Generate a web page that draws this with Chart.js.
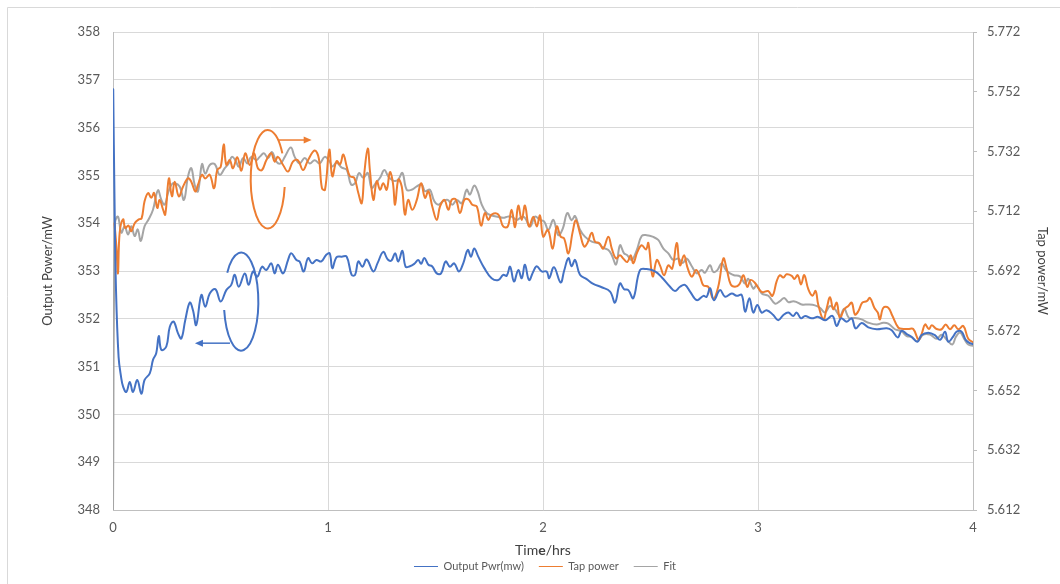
<!DOCTYPE html>
<html><head><meta charset="utf-8">
<script src="https://cdn.jsdelivr.net/npm/chart.js@4/dist/chart.umd.min.js"></script>
<style>html,body{margin:0;padding:0;background:#fff}#wrap{width:1060px;height:584px;position:relative}</style>
</head><body><div id="wrap"><canvas id="c" width="1060" height="584"></canvas></div>
<script>
// ---- tick labels ----
const xTicks = [0, 1, 2, 3, 4];
const leftTicks = [348, 349, 350, 351, 352, 353, 354, 355, 356, 357, 358];
const rightTicks = [5.612, 5.632, 5.652, 5.672, 5.692, 5.712, 5.732, 5.752, 5.772];
const seriesNames = ['Output Pwr(mw)', 'Tap power', 'Fit'];

// ---- series: [time (hrs), value] ----
const outputPwr = [
[0.001,356.8],[0.007,354.5],[0.014,352.6],[0.026,351.2],[0.037,350.8],[0.047,350.58],[0.062,350.47],[0.078,350.68],[0.093,350.47],[0.113,350.72],
[0.132,350.43],[0.147,350.72],[0.171,350.86],[0.186,351.14],[0.201,351.28],[0.213,351.64],[0.225,351.35],[0.248,351.42],[0.264,351.83],[0.282,351.94],
[0.302,351.70],[0.318,351.59],[0.336,351.97],[0.357,352.34],[0.372,352.18],[0.387,351.87],[0.411,352.50],[0.429,352.25],[0.450,352.53],[0.476,352.62],
[0.501,352.36],[0.527,352.60],[0.550,352.71],[0.566,352.92],[0.585,352.67],[0.613,352.95],[0.631,352.71],[0.651,352.99],[0.671,352.88],[0.693,353.09],
[0.713,353.02],[0.736,353.16],[0.752,352.95],[0.767,353.13],[0.791,352.95],[0.814,353.23],[0.829,353.37],[0.853,353.23],[0.868,353.20],[0.887,352.99],
[0.907,353.27],[0.926,353.16],[0.946,353.23],[0.969,353.20],[0.992,353.34],[1.008,353.37],[1.020,353.06],[1.040,353.29],[1.064,353.30],[1.087,353.30],
[1.110,352.92],[1.126,352.92],[1.141,353.20],[1.160,353.09],[1.180,353.24],[1.211,352.99],[1.231,353.17],[1.257,353.40],[1.278,353.24],[1.295,353.22],
[1.312,353.37],[1.327,353.20],[1.346,353.42],[1.361,353.09],[1.381,353.10],[1.401,353.15],[1.420,353.23],[1.433,353.15],[1.448,353.27],[1.467,353.13],
[1.484,353.10],[1.506,352.95],[1.526,352.95],[1.547,353.20],[1.567,353.09],[1.587,353.16],[1.609,352.99],[1.629,353.16],[1.650,353.44],[1.665,353.30],
[1.680,353.47],[1.699,353.30],[1.727,353.06],[1.761,352.85],[1.792,352.81],[1.815,352.92],[1.831,352.90],[1.847,353.09],[1.865,352.78],[1.885,353.02],
[1.901,352.85],[1.916,353.13],[1.935,352.81],[1.955,352.99],[1.971,353.10],[1.994,352.99],[2.017,352.99],[2.029,352.85],[2.051,353.08],[2.082,352.76],
[2.098,353.00],[2.118,353.27],[2.133,353.10],[2.149,353.23],[2.172,352.92],[2.203,352.83],[2.234,352.73],[2.273,352.66],[2.312,352.57],[2.335,352.34],
[2.358,352.74],[2.377,352.62],[2.397,352.60],[2.420,352.43],[2.451,353.02],[2.482,353.04],[2.521,352.99],[2.552,352.87],[2.591,352.67],[2.614,352.58],
[2.637,352.67],[2.660,352.71],[2.684,352.57],[2.715,352.39],[2.746,352.48],[2.761,352.46],[2.777,352.64],[2.795,352.39],[2.823,352.60],[2.847,352.46],
[2.878,352.53],[2.901,352.48],[2.924,352.50],[2.940,352.15],[2.960,352.43],[2.978,352.13],[2.997,352.29],[3.017,352.13],[3.040,352.18],[3.071,352.08],
[3.094,351.97],[3.118,352.08],[3.141,352.13],[3.164,352.06],[3.180,352.13],[3.200,352.01],[3.219,352.06],[3.250,352.01],[3.280,352.04],[3.312,351.97],
[3.346,352.06],[3.366,351.85],[3.386,352.01],[3.413,351.94],[3.436,352.01],[3.454,351.80],[3.482,351.91],[3.513,351.82],[3.552,351.78],[3.599,351.80],
[3.622,351.76],[3.650,351.61],[3.668,351.75],[3.692,351.68],[3.712,351.63],[3.741,351.52],[3.761,351.66],[3.792,351.71],[3.823,351.66],[3.847,351.56],
[3.870,351.73],[3.885,351.52],[3.908,351.63],[3.924,351.73],[3.947,351.73],[3.966,351.56],[3.986,351.49],[4.000,351.47]
];

const tapPower = [
[0.007,5.7080],[0.016,5.7000],[0.023,5.6912],[0.031,5.7048],[0.047,5.7093],[0.057,5.7064],[0.072,5.7072],[0.085,5.7053],[0.101,5.7080],[0.120,5.7093],
[0.133,5.7096],[0.147,5.7154],[0.163,5.7181],[0.178,5.7165],[0.191,5.7181],[0.206,5.7131],[0.217,5.7158],[0.233,5.7125],[0.243,5.7109],[0.260,5.7230],
[0.274,5.7170],[0.287,5.7219],[0.306,5.7170],[0.326,5.7203],[0.349,5.7230],[0.364,5.7219],[0.383,5.7186],[0.395,5.7208],[0.414,5.7242],[0.429,5.7230],
[0.450,5.7242],[0.470,5.7197],[0.485,5.7258],[0.501,5.7269],[0.515,5.7344],[0.527,5.7275],[0.543,5.7291],[0.558,5.7264],[0.578,5.7301],[0.597,5.7256],
[0.615,5.7314],[0.636,5.7275],[0.656,5.7314],[0.674,5.7264],[0.693,5.7258],[0.713,5.7291],[0.736,5.7314],[0.752,5.7286],[0.767,5.7302],[0.791,5.7275],
[0.814,5.7253],[0.837,5.7286],[0.860,5.7291],[0.884,5.7258],[0.907,5.7291],[0.938,5.7323],[0.957,5.7298],[0.972,5.7197],[0.986,5.7192],[1.006,5.7326],
[1.020,5.7237],[1.040,5.7288],[1.056,5.7277],[1.071,5.7310],[1.087,5.7270],[1.102,5.7237],[1.122,5.7232],[1.141,5.7181],[1.157,5.7147],[1.169,5.7248],
[1.185,5.7330],[1.195,5.7256],[1.211,5.7158],[1.227,5.7221],[1.242,5.7192],[1.257,5.7214],[1.273,5.7192],[1.288,5.7251],[1.302,5.7214],[1.312,5.7142],
[1.327,5.7226],[1.343,5.7203],[1.358,5.7109],[1.373,5.7158],[1.392,5.7125],[1.413,5.7158],[1.433,5.7214],[1.451,5.7165],[1.467,5.7187],[1.485,5.7136],
[1.506,5.7091],[1.521,5.7136],[1.541,5.7158],[1.560,5.7125],[1.575,5.7158],[1.594,5.7160],[1.614,5.7114],[1.634,5.7158],[1.653,5.7160],[1.671,5.7142],
[1.692,5.7136],[1.712,5.7072],[1.730,5.7114],[1.746,5.7091],[1.761,5.7109],[1.792,5.7109],[1.815,5.7069],[1.836,5.7069],[1.854,5.7125],[1.870,5.7067],
[1.885,5.7139],[1.901,5.7091],[1.916,5.7139],[1.935,5.7069],[1.955,5.7102],[1.971,5.7069],[1.986,5.7106],[2.001,5.7035],[2.023,5.7058],[2.045,5.6995],
[2.064,5.7069],[2.082,5.7035],[2.098,5.7029],[2.118,5.6979],[2.138,5.7051],[2.153,5.7090],[2.172,5.7046],[2.191,5.7002],[2.206,5.7013],[2.227,5.7048],
[2.242,5.7018],[2.262,5.7013],[2.280,5.6995],[2.304,5.7035],[2.320,5.6995],[2.340,5.6962],[2.358,5.6973],[2.373,5.6962],[2.392,5.6950],[2.408,5.6973],
[2.420,5.6946],[2.439,5.6984],[2.459,5.7006],[2.479,5.6992],[2.490,5.7014],[2.510,5.6902],[2.529,5.6957],[2.544,5.6939],[2.563,5.6906],[2.583,5.6939],
[2.601,5.6928],[2.622,5.7014],[2.637,5.6939],[2.656,5.6973],[2.671,5.6934],[2.692,5.6901],[2.712,5.6923],[2.730,5.6902],[2.746,5.6872],[2.769,5.6867],
[2.792,5.6827],[2.815,5.6867],[2.839,5.6962],[2.854,5.6928],[2.873,5.6875],[2.893,5.6867],[2.913,5.6875],[2.932,5.6906],[2.950,5.6867],[2.966,5.6890],
[2.986,5.6880],[3.017,5.6850],[3.047,5.6853],[3.067,5.6837],[3.087,5.6886],[3.102,5.6906],[3.118,5.6898],[3.133,5.6909],[3.157,5.6904],[3.169,5.6893],
[3.185,5.6906],[3.200,5.6875],[3.215,5.6906],[3.234,5.6859],[3.253,5.6837],[3.268,5.6853],[3.280,5.6808],[3.304,5.6758],[3.320,5.6797],[3.335,5.6832],
[3.350,5.6792],[3.366,5.6814],[3.381,5.6763],[3.401,5.6792],[3.420,5.6803],[3.436,5.6814],[3.451,5.6774],[3.467,5.6786],[3.485,5.6814],[3.506,5.6819],
[3.521,5.6830],[3.541,5.6797],[3.557,5.6781],[3.567,5.6758],[3.583,5.6797],[3.606,5.6797],[3.625,5.6770],[3.653,5.6730],[3.676,5.6726],[3.699,5.6726],
[3.722,5.6726],[3.746,5.6691],[3.761,5.6709],[3.777,5.6741],[3.795,5.6726],[3.808,5.6738],[3.831,5.6726],[3.854,5.6725],[3.873,5.6741],[3.893,5.6725],
[3.913,5.6738],[3.932,5.6725],[3.955,5.6736],[3.978,5.6693],[4.000,5.6682]
];

const fitValues = [
[0.000,5.6120],[0.009,5.7080],[0.023,5.7102],[0.039,5.7048],[0.054,5.7070],[0.070,5.7042],[0.085,5.7070],[0.101,5.7037],[0.115,5.7059],[0.129,5.7021],
[0.147,5.7070],[0.166,5.7093],[0.186,5.7125],[0.209,5.7190],[0.225,5.7158],[0.240,5.7142],[0.256,5.7181],[0.271,5.7208],[0.287,5.7214],[0.310,5.7203],
[0.330,5.7158],[0.349,5.7237],[0.364,5.7264],[0.380,5.7208],[0.395,5.7186],[0.414,5.7278],[0.429,5.7246],[0.450,5.7275],[0.473,5.7278],[0.496,5.7242],
[0.520,5.7264],[0.538,5.7280],[0.553,5.7302],[0.569,5.7291],[0.585,5.7269],[0.605,5.7298],[0.625,5.7280],[0.643,5.7302],[0.667,5.7291],[0.682,5.7302],
[0.702,5.7314],[0.721,5.7298],[0.740,5.7318],[0.760,5.7286],[0.780,5.7280],[0.799,5.7302],[0.827,5.7333],[0.845,5.7302],[0.868,5.7280],[0.892,5.7298],
[0.915,5.7280],[0.938,5.7291],[0.961,5.7280],[0.985,5.7302],[1.008,5.7286],
[1.020,5.7270],[1.040,5.7282],[1.064,5.7266],[1.087,5.7259],[1.107,5.7210],[1.126,5.7214],[1.144,5.7248],[1.164,5.7232],[1.185,5.7248],[1.203,5.7198],
[1.222,5.7214],[1.242,5.7232],[1.262,5.7258],[1.280,5.7237],[1.296,5.7226],[1.312,5.7221],[1.327,5.7226],[1.346,5.7248],[1.366,5.7192],[1.389,5.7192],
[1.413,5.7203],[1.436,5.7210],[1.451,5.7187],[1.474,5.7192],[1.494,5.7154],[1.513,5.7142],[1.536,5.7154],[1.557,5.7158],[1.578,5.7142],[1.599,5.7158],
[1.622,5.7147],[1.645,5.7192],[1.660,5.7176],[1.680,5.7206],[1.696,5.7187],[1.715,5.7142],[1.738,5.7114],[1.761,5.7106],[1.792,5.7101],[1.815,5.7098],
[1.836,5.7102],[1.854,5.7102],[1.878,5.7091],[1.901,5.7101],[1.916,5.7098],[1.940,5.7069],[1.963,5.7102],[1.986,5.7091],
[2.005,5.7086],[2.025,5.7058],[2.048,5.7091],[2.071,5.7040],[2.092,5.7062],[2.113,5.7114],[2.133,5.7090],[2.149,5.7104],[2.172,5.7058],[2.195,5.7035],
[2.227,5.7018],[2.257,5.7013],[2.280,5.6998],[2.304,5.6990],[2.320,5.6973],[2.340,5.6942],[2.358,5.7006],[2.377,5.6979],[2.392,5.6973],[2.413,5.6957],
[2.436,5.6990],[2.459,5.7037],[2.482,5.7040],[2.513,5.7034],[2.536,5.7024],[2.560,5.6995],[2.583,5.6979],[2.606,5.6957],[2.629,5.6962],[2.650,5.6947],
[2.668,5.6962],[2.692,5.6936],[2.715,5.6912],[2.738,5.6923],[2.753,5.6914],[2.777,5.6939],[2.792,5.6917],[2.811,5.6923],[2.831,5.6946],[2.851,5.6923],
[2.870,5.6912],[2.888,5.6906],[2.916,5.6902],[2.940,5.6878],[2.955,5.6894],[2.978,5.6861],[2.994,5.6872],[3.017,5.6845],
[3.048,5.6837],[3.079,5.6811],[3.102,5.6819],[3.122,5.6830],[3.141,5.6816],[3.164,5.6819],[3.180,5.6816],[3.203,5.6808],[3.234,5.6808],[3.265,5.6805],
[3.288,5.6797],[3.312,5.6781],[3.335,5.6803],[3.358,5.6792],[3.381,5.6770],[3.401,5.6794],[3.423,5.6763],[3.451,5.6763],[3.482,5.6758],[3.513,5.6747],
[3.552,5.6741],[3.583,5.6747],[3.606,5.6744],[3.637,5.6725],[3.668,5.6718],[3.692,5.6702],[3.715,5.6699],[3.741,5.6685],[3.769,5.6707],[3.800,5.6707],
[3.831,5.6693],[3.854,5.6707],[3.877,5.6691],[3.904,5.6674],[3.920,5.6699],[3.940,5.6714],[3.959,5.6693],[3.978,5.6674],[4.000,5.6670]
];

// ---- styling ----
const COLORS = ['#4472C4', '#ED7D31', '#A5A5A5'];
const GRID = '#D9D9D9';
const AXIS = '#BFBFBF';
const TICK_COLOR = '#595959';
const TITLE_COLOR = '#404040';
const FONT = 'Lato, "Open Sans", "Liberation Sans", sans-serif';

// hand-drawn annotations (ellipse + arrow), placed in data units
const annotations = [
  {color: '#ED7D31', t: 0.72, v: 354.92, rt: 0.0795, rv: 1.03, a0: 0.16, a1: 5.73, arrow: [0.769, 0.924, 355.74]},
  {color: '#4472C4', t: 0.596, v: 352.36, rt: 0.080, rv: 1.025, a0: -2.51, a1: 2.97, arrow: [0.544, 0.381, 351.49]}
];

const toXY = arr => arr.map(p => ({x: p[0], y: p[1]}));

const decoPlugin = {
  id: 'deco',
  beforeDraw(chart) {
    const ctx = chart.ctx;
    ctx.save();
    ctx.fillStyle = '#fff';
    ctx.fillRect(0, 0, chart.width, chart.height);
    ctx.strokeStyle = GRID;
    ctx.lineWidth = 1;
    ctx.beginPath();
    ctx.moveTo(7.5, chart.height + 2);
    ctx.lineTo(7.5, 7.5);
    ctx.lineTo(chart.width + 2, 7.5);
    ctx.stroke();
    ctx.restore();
  },
  afterDatasetsDraw(chart) {
    const ctx = chart.ctx, xs = chart.scales.x, ys = chart.scales.y;
    ctx.save();
    ctx.lineWidth = 2;
    annotations.forEach(a => {
      const cx = xs.getPixelForValue(a.t), cy = ys.getPixelForValue(a.v);
      const rx = xs.getPixelForValue(a.t + a.rt) - cx;
      const ry = cy - ys.getPixelForValue(a.v + a.rv);
      ctx.strokeStyle = a.color;
      ctx.fillStyle = a.color;
      ctx.beginPath();
      ctx.ellipse(cx, cy, rx, ry, 0, a.a0, a.a1, false);
      ctx.stroke();
      const x0 = xs.getPixelForValue(a.arrow[0]), x1 = xs.getPixelForValue(a.arrow[1]);
      const y = ys.getPixelForValue(a.arrow[2]);
      const dir = Math.sign(x1 - x0);
      ctx.lineWidth = 1.5;
      ctx.beginPath();
      ctx.moveTo(x0, y);
      ctx.lineTo(x1 - dir * 6, y);
      ctx.stroke();
      ctx.beginPath();
      ctx.moveTo(x1, y);
      ctx.lineTo(x1 - dir * 8, y - 3.5);
      ctx.lineTo(x1 - dir * 8, y + 3.5);
      ctx.closePath();
      ctx.fill();
      ctx.lineWidth = 2;
    });
    ctx.restore();
  },
  afterDraw(chart) {
    // x-axis title "Time/hrs" (the 'e' is bold in the original)
    const ctx = chart.ctx, area = chart.chartArea;
    const parts = [['Tim', 'normal'], ['e', 'bold'], ['/hrs', 'normal']];
    ctx.save();
    ctx.fillStyle = TITLE_COLOR;
    ctx.textBaseline = 'middle';
    let total = 0;
    const widths = parts.map(p => { ctx.font = p[1] + ' 14px ' + FONT; const w = ctx.measureText(p[0]).width; total += w; return w; });
    let x = (area.left + area.right) / 2 - total / 2;
    parts.forEach((p, i) => { ctx.font = p[1] + ' 14px ' + FONT; ctx.fillText(p[0], x, 550); x += widths[i]; });
    ctx.restore();
  }
};

new Chart(document.getElementById('c'), {
  type: 'line',
  data: {
    datasets: [
      {label: seriesNames[0], data: toXY(outputPwr), yAxisID: 'y', borderColor: COLORS[0], backgroundColor: COLORS[0]},
      {label: seriesNames[1], data: toXY(tapPower), yAxisID: 'y1', borderColor: COLORS[1], backgroundColor: COLORS[1]},
      {label: seriesNames[2], data: toXY(fitValues), yAxisID: 'y1', borderColor: COLORS[2], backgroundColor: COLORS[2]}
    ]
  },
  options: {
    responsive: false,
    animation: false,
    devicePixelRatio: 1,
    layout: {padding: {left: 36, right: 6, top: 32, bottom: 2}},
    elements: {
      point: {radius: 0},
      line: {borderWidth: 2, tension: 0.4, fill: false, borderJoinStyle: 'round', borderCapStyle: 'round'}
    },
    plugins: {
      legend: {
        position: 'bottom',
        labels: {
          usePointStyle: true, pointStyle: 'line', pointStyleWidth: 24,
          padding: 15, color: TICK_COLOR, font: {family: FONT, size: 11}
        }
      },
      tooltip: {enabled: false}
    },
    scales: {
      x: {
        type: 'linear', min: 0, max: 4,
        afterBuildTicks: s => { s.ticks = xTicks.map(v => ({value: v})); },
        afterFit: s => { s.height = 36; },
        grid: {color: GRID, drawTicks: false},
        border: {color: AXIS},
        ticks: {color: TICK_COLOR, padding: 10, font: {family: FONT, size: 13}, callback: v => String(v)}
      },
      y: {
        position: 'left', min: 348, max: 358,
        afterBuildTicks: s => { s.ticks = leftTicks.map(v => ({value: v})); },
        afterFit: s => { s.width = 77; },
        grid: {color: GRID, drawTicks: false},
        border: {color: AXIS},
        ticks: {color: TICK_COLOR, padding: 13, font: {family: FONT, size: 13}, callback: v => String(v)},
        title: {display: true, text: 'Output Power/mW', color: TITLE_COLOR, font: {family: FONT, size: 13}}
      },
      y1: {
        position: 'right', min: 5.612, max: 5.772,
        afterBuildTicks: s => { s.ticks = rightTicks.map(v => ({value: v})); },
        afterFit: s => { s.width = 81; },
        grid: {drawOnChartArea: false, drawTicks: true, tickLength: 4, color: AXIS},
        border: {color: AXIS},
        ticks: {color: TICK_COLOR, padding: 10, font: {family: FONT, size: 13}, callback: v => v.toFixed(3)},
        title: {display: true, text: 'Tap power/mW', color: TITLE_COLOR, font: {family: FONT, size: 13}}
      }
    }
  },
  plugins: [decoPlugin]
});
</script>
</body></html>
